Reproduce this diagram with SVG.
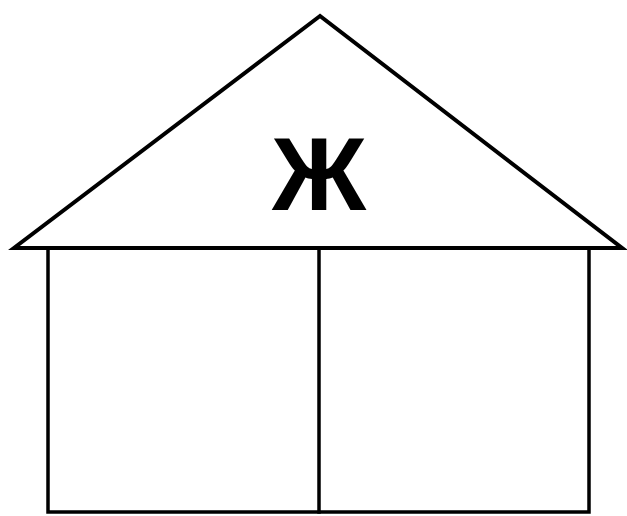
<svg xmlns="http://www.w3.org/2000/svg" width="627" height="516" viewBox="0 0 627 516">
<style>
.ln{fill:none;stroke:#000;stroke-linejoin:miter;stroke-linecap:square}
.lbl{font-family:"Liberation Sans",Arial,sans-serif;font-weight:bold;font-size:104px;fill:#000;text-anchor:middle}
</style>
<rect width="627" height="516" fill="#fff"/>
<g id="roof">
<polygon class="ln" stroke-width="4" points="320,16 14,248 622,248"/>
<text class="lbl" x="319" y="210">Ж</text>
</g>
<g id="walls">
<polyline class="ln" stroke-width="3.5" points="48,250 48,512 589,512 589,250"/>
<line class="ln" stroke-width="3.5" x1="319" y1="250" x2="319" y2="512"/>
</g>
</svg>
